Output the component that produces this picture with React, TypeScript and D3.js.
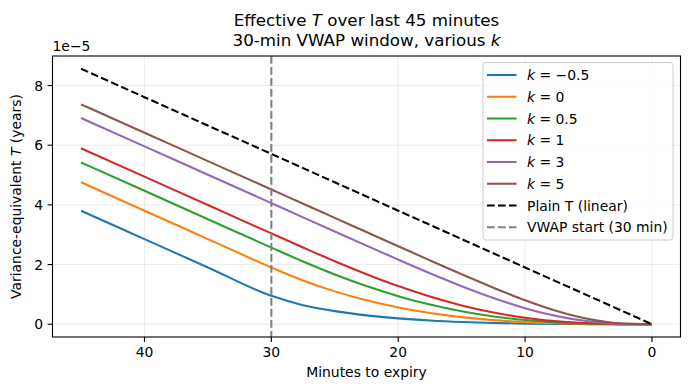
import React from 'react';
import * as d3 from 'd3';

// minutes to expiry (x), values in units of 1e-5 years
const minutes = [45, 40, 35, 30, 27.5, 25, 22.5, 20, 17.5, 15, 12.5, 10, 7.5, 5, 2.5, 0];

const kNeg05 = [3.805, 2.854, 1.903, 0.951, 0.639, 0.439, 0.297, 0.196, 0.125, 0.075, 0.041, 0.020, 0.008, 0.002, 0.0003, 0];
const k0 = [4.757, 3.805, 2.854, 1.903, 1.466, 1.101, 0.803, 0.564, 0.378, 0.238, 0.138, 0.071, 0.030, 0.009, 0.001, 0];
const k05 = [5.423, 4.472, 3.520, 2.569, 2.102, 1.668, 1.279, 0.941, 0.659, 0.433, 0.261, 0.139, 0.061, 0.019, 0.0025, 0];
const k1 = [5.898, 4.947, 3.995, 3.044, 2.571, 2.110, 1.676, 1.278, 0.927, 0.630, 0.393, 0.216, 0.098, 0.031, 0.004, 0];
const k3 = [6.913, 5.962, 5.010, 4.059, 3.583, 3.108, 2.634, 2.166, 1.709, 1.275, 0.879, 0.538, 0.272, 0.097, 0.015, 0];
const k5 = [7.370, 6.419, 5.467, 4.516, 4.040, 3.565, 3.089, 2.614, 2.141, 1.675, 1.224, 0.804, 0.443, 0.174, 0.029, 0];
const plainT = [8.562, 7.610, 6.659, 5.708, 5.232, 4.757, 4.281, 3.805, 3.330, 2.854, 2.378, 1.903, 1.427, 0.951, 0.476, 0];

const kLabels = ['\u22120.5', '0', '0.5', '1', '3', '5'];
const kSeries = [kNeg05, k0, k05, k1, k3, k5];
const colors = ['#1f77b4', '#ff7f0e', '#2ca02c', '#d62728', '#9467bd', '#8c564b'];

const xTicks = [40, 30, 20, 10, 0];
const yTicks = [0, 2, 4, 6, 8];
const vwapStart = 30;

const W = 690;
const H = 390;
const left = 52.5, right = 680.5, top = 56, bottom = 337;
const font = 'DejaVu Sans, sans-serif';

export default function App() {
  const maxX = d3.max(minutes) as number;
  const maxY = d3.max(plainT) as number;
  const x = d3.scaleLinear().domain([maxX + maxX * 0.05, -maxX * 0.05]).range([left, right]);
  const y = d3.scaleLinear().domain([-maxY * 0.05, maxY * 1.05]).range([bottom, top]);

  const line = d3.line<number>()
    .x((_, i) => x(minutes[i]))
    .y(d => y(d))
    .curve(d3.curveMonotoneX);

  const cx = (left + right) / 2;
  const cy = (top + bottom) / 2;

  // legend layout
  const lgX = 483, lgY = 62.5, lgW = 190, lgH = 177.5;
  const rowH = 21.75;
  const legendItems = [
    ...kLabels.map((lab, i) => ({ k: lab, color: colors[i], dash: null as string | null, text: '' })),
    { k: null as string | null, color: '#000000', dash: '7.7,3.3', text: 'Plain T (linear)' },
    { k: null as string | null, color: '#808080', dash: '7.7,3.3', text: 'VWAP start (30 min)' },
  ];

  return (
    <svg width={W} height={H} style={{ position: 'absolute', left: 0, top: 0, background: '#fff' }}
      fontFamily={font}>
      <rect x={0} y={0} width={W} height={H} fill="#fff" />

      {/* grid */}
      <g stroke="#b0b0b0" strokeOpacity={0.3} strokeWidth={0.8}>
        {xTicks.map(t => <line key={'gx' + t} x1={x(t)} x2={x(t)} y1={top} y2={bottom} />)}
        {yTicks.map(t => <line key={'gy' + t} x1={left} x2={right} y1={y(t)} y2={y(t)} />)}
      </g>

      {/* k series */}
      <g fill="none" strokeWidth={2.08}>
        {kSeries.map((s, i) => <path key={i} d={line(s) as string} stroke={colors[i]} />)}
        <path d={line(plainT) as string} stroke="#000" strokeDasharray="7.7,3.3" />
      </g>

      {/* VWAP start */}
      <line x1={x(vwapStart)} x2={x(vwapStart)} y1={top} y2={bottom}
        stroke="#808080" strokeWidth={2.08} strokeDasharray="7.7,3.3" />

      {/* spines */}
      <rect x={left} y={top} width={right - left} height={bottom - top} fill="none" stroke="#000" strokeWidth={1.1} />

      {/* ticks and labels */}
      <g fontSize={13.9} fill="#000">
        {xTicks.map(t => (
          <g key={'xt' + t}>
            <line x1={x(t)} x2={x(t)} y1={bottom} y2={bottom + 4.9} stroke="#000" strokeWidth={1.1} />
            <text x={x(t)} y={bottom + 20} textAnchor="middle">{t}</text>
          </g>
        ))}
        {yTicks.map(t => (
          <g key={'yt' + t}>
            <line x1={left - 4.9} x2={left} y1={y(t)} y2={y(t)} stroke="#000" strokeWidth={1.1} />
            <text x={left - 9.5} y={y(t)} dy="0.36em" textAnchor="end">{t}</text>
          </g>
        ))}
        <text x={left} y={50.5}>1e{'\u2212'}5</text>
        <text x={cx} y={377} textAnchor="middle">Minutes to expiry</text>
        <text transform={`translate(21,${cy}) rotate(-90)`} textAnchor="middle">
          Variance-equivalent <tspan fontStyle="italic">T</tspan> (years)
        </text>
      </g>

      {/* title */}
      <g fontSize={16.7} fill="#000" textAnchor="middle">
        <text x={cx} y={25.5}>Effective <tspan fontStyle="italic">T</tspan> over last 45 minutes</text>
        <text x={cx} y={46}>30-min VWAP window, various <tspan fontStyle="italic">k</tspan></text>
      </g>

      {/* legend */}
      <g>
        <rect x={lgX} y={lgY} width={lgW} height={lgH} rx={3} fill="#fff" fillOpacity={0.8} stroke="#cccccc" strokeWidth={1} />
        {legendItems.map((it, i) => {
          const yy = lgY + 12.5 + i * rowH;
          return (
            <g key={'lg' + i}>
              <line x1={lgX + 4} x2={lgX + 33.5} y1={yy} y2={yy} stroke={it.color} strokeWidth={2.08}
                strokeDasharray={it.dash ?? undefined} />
              <text x={lgX + 44} y={yy} dy="0.36em" fontSize={13.9} fill="#000">
                {it.k !== null ? (
                  <>
                    <tspan fontStyle="italic">k</tspan>
                    <tspan> = {it.k}</tspan>
                  </>
                ) : it.text}
              </text>
            </g>
          );
        })}
      </g>
    </svg>
  );
}
